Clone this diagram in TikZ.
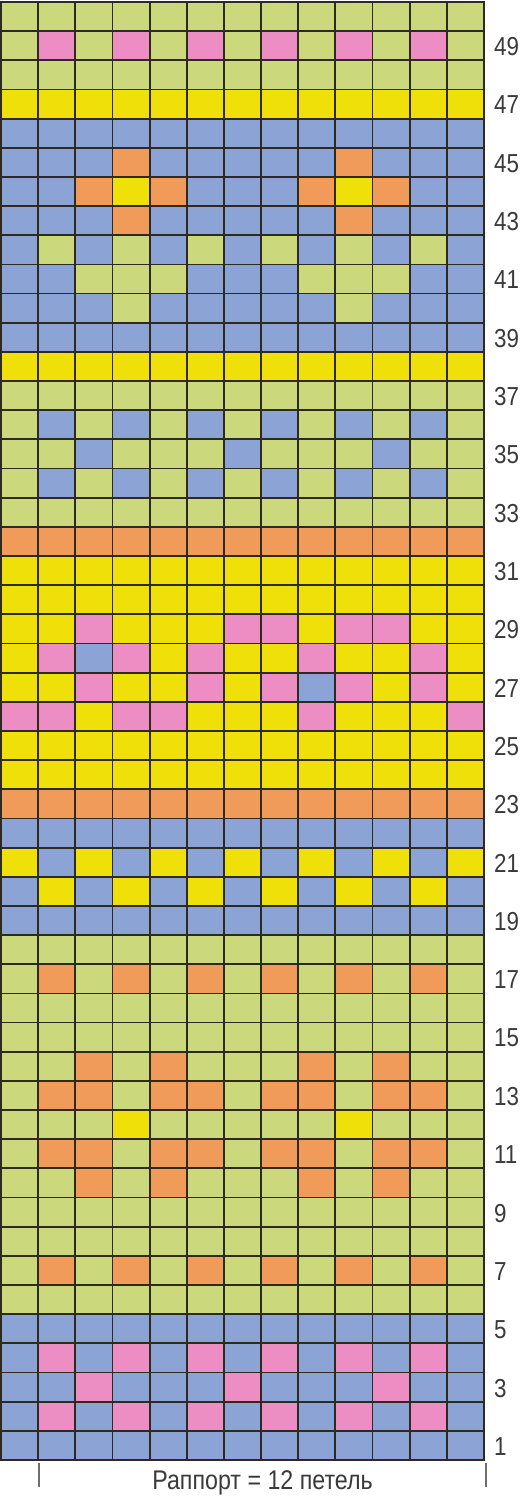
\documentclass[tikz,border=0pt]{standalone}
\usepackage{fontspec}
\setmainfont{Liberation Sans}
\newfontfamily\chartfont[FakeStretch=0.86]{Liberation Sans}
\definecolor{sage}{HTML}{CCD87C}
\definecolor{lemon}{HTML}{F0E00A}
\definecolor{sky}{HTML}{8CA3D6}
\definecolor{apricot}{HTML}{F09B5A}
\definecolor{rose}{HTML}{EC8EC4}
\definecolor{gridline}{HTML}{2E2A20}
\definecolor{dim}{HTML}{3A3A3A}
\definecolor{tickgray}{HTML}{6E6E6E}
\colorlet{G}{sage}
\colorlet{Y}{lemon}
\colorlet{B}{sky}
\colorlet{O}{apricot}
\colorlet{P}{rose}
\begin{document}
\begin{tikzpicture}[x=1pt,y=1pt,
  gridrule/.style={draw=gridline,line width=1.8pt,line cap=rect},
  rownum/.style={anchor=west,inner sep=0pt,text=dim,font=\chartfont\fontsize{26}{26}\selectfont},
  caption/.style={inner sep=0pt,text=dim,font=\chartfont\fontsize{27}{27}\selectfont},
  tickrule/.style={draw=tickgray,line width=1.4pt}]
\useasboundingbox[fill=white] (0,0) rectangle (526,1496);
\def\cw{37.15}\def\rh{29.16}
\foreach \cells [count=\k] in {
  {G,G,G,G,G,G,G,G,G,G,G,G,G},
  {G,P,G,P,G,P,G,P,G,P,G,P,G},
  {G,G,G,G,G,G,G,G,G,G,G,G,G},
  {Y,Y,Y,Y,Y,Y,Y,Y,Y,Y,Y,Y,Y},
  {B,B,B,B,B,B,B,B,B,B,B,B,B},
  {B,B,B,O,B,B,B,B,B,O,B,B,B},
  {B,B,O,Y,O,B,B,B,O,Y,O,B,B},
  {B,B,B,O,B,B,B,B,B,O,B,B,B},
  {B,G,B,G,B,G,B,G,B,G,B,G,B},
  {B,B,G,G,G,B,B,B,G,G,G,B,B},
  {B,B,B,G,B,B,B,B,B,G,B,B,B},
  {B,B,B,B,B,B,B,B,B,B,B,B,B},
  {Y,Y,Y,Y,Y,Y,Y,Y,Y,Y,Y,Y,Y},
  {G,G,G,G,G,G,G,G,G,G,G,G,G},
  {G,B,G,B,G,B,G,B,G,B,G,B,G},
  {G,G,B,G,G,G,B,G,G,G,B,G,G},
  {G,B,G,B,G,B,G,B,G,B,G,B,G},
  {G,G,G,G,G,G,G,G,G,G,G,G,G},
  {O,O,O,O,O,O,O,O,O,O,O,O,O},
  {Y,Y,Y,Y,Y,Y,Y,Y,Y,Y,Y,Y,Y},
  {Y,Y,Y,Y,Y,Y,Y,Y,Y,Y,Y,Y,Y},
  {Y,Y,P,Y,Y,Y,P,P,Y,P,P,Y,Y},
  {Y,P,B,P,Y,P,Y,Y,P,Y,Y,P,Y},
  {Y,Y,P,Y,Y,P,Y,P,B,P,Y,P,Y},
  {P,P,Y,P,P,Y,Y,Y,P,Y,Y,Y,P},
  {Y,Y,Y,Y,Y,Y,Y,Y,Y,Y,Y,Y,Y},
  {Y,Y,Y,Y,Y,Y,Y,Y,Y,Y,Y,Y,Y},
  {O,O,O,O,O,O,O,O,O,O,O,O,O},
  {B,B,B,B,B,B,B,B,B,B,B,B,B},
  {Y,B,Y,B,Y,B,Y,B,Y,B,Y,B,Y},
  {B,Y,B,Y,B,Y,B,Y,B,Y,B,Y,B},
  {B,B,B,B,B,B,B,B,B,B,B,B,B},
  {G,G,G,G,G,G,G,G,G,G,G,G,G},
  {G,O,G,O,G,O,G,O,G,O,G,O,G},
  {G,G,G,G,G,G,G,G,G,G,G,G,G},
  {G,G,G,G,G,G,G,G,G,G,G,G,G},
  {G,G,O,G,O,G,G,G,O,G,O,G,G},
  {G,O,O,G,O,O,G,O,O,G,O,O,G},
  {G,G,G,Y,G,G,G,G,G,Y,G,G,G},
  {G,O,O,G,O,O,G,O,O,G,O,O,G},
  {G,G,O,G,O,G,G,G,O,G,O,G,G},
  {G,G,G,G,G,G,G,G,G,G,G,G,G},
  {G,G,G,G,G,G,G,G,G,G,G,G,G},
  {G,O,G,O,G,O,G,O,G,O,G,O,G},
  {G,G,G,G,G,G,G,G,G,G,G,G,G},
  {B,B,B,B,B,B,B,B,B,B,B,B,B},
  {B,P,B,P,B,P,B,P,B,P,B,P,B},
  {B,B,P,B,B,B,P,B,B,B,P,B,B},
  {B,P,B,P,B,P,B,P,B,P,B,P,B},
  {B,B,B,B,B,B,B,B,B,B,B,B,B}}{
  \foreach \c [count=\i] in \cells
    \fill[\c] ({1+(\i-1)*\cw},{1494-\k*\rh}) rectangle ++(\cw,\rh);
}
\foreach \i in {0,...,13}
  \draw[gridrule] ({1+\i*\cw},36) -- ++(0,1458);
\foreach \k in {0,...,50}
  \draw[gridrule] (1,{36+\k*\rh}) -- ++(483,0);
\foreach \n in {1,3,...,49}
  \node[rownum] (row\n) at (494,{36+(\n-0.5)*\rh-1}) {\n};
\coordinate (rapL) at (39,9);
\coordinate (rapR) at (486,9);
\draw[tickrule] (rapL) -- ++(0,24);
\draw[tickrule] (rapR) -- ++(0,24);
\path (rapL) -- (rapR) node[caption,midway,anchor=base,yshift=-3pt] (rapport) {Раппорт = 12 петель};
\end{tikzpicture}
\end{document}
